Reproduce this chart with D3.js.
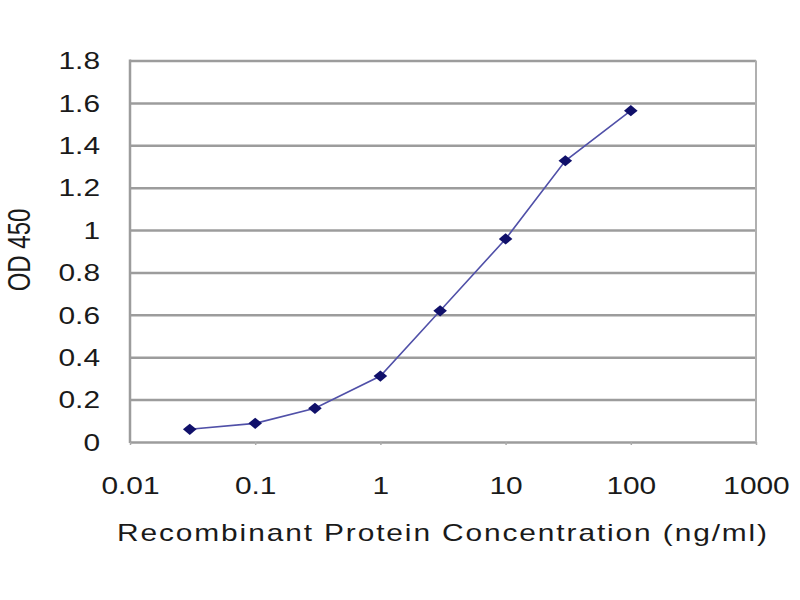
<!DOCTYPE html>
<html><head><meta charset="utf-8">
<script src="https://cdn.jsdelivr.net/npm/d3@7"></script>
<style>body{margin:0;background:#fff}svg{display:block}text{font-family:"Liberation Sans",Arial,sans-serif;fill:#1a1a1a}</style>
</head><body>
<svg id="c" width="800" height="600"></svg>
<script>
const concentrations = [0.03, 0.1, 0.3, 1, 3, 10, 30, 100];
const odValues = [0.06, 0.088, 0.159, 0.311, 0.619, 0.958, 1.327, 1.563];
const xTicks = [0.01, 0.1, 1, 10, 100, 1000];
const xTickLabels = ["0.01", "0.1", "1", "10", "100", "1000"];
const yTicks = [0, 0.2, 0.4, 0.6, 0.8, 1, 1.2, 1.4, 1.6, 1.8];
const yTickLabels = ["0", "0.2", "0.4", "0.6", "0.8", "1", "1.2", "1.4", "1.6", "1.8"];

const svg = d3.select("#c");
const L = 130, R = 756, T = 60.5, B = 442;
const SX = 1.3;
const x = d3.scaleLog().domain([0.01, 1000]).range([L, R]);
const y = d3.scaleLinear().domain([0, 1.8]).range([B, T]);

// gridlines + y labels
const yAxis = d3.axisLeft(y).tickValues(yTicks).tickSize(-(R - L)).tickFormat((d, i) => yTickLabels[i]);
const gy = svg.append("g").attr("transform", `translate(${L},0)`).call(yAxis);
gy.select(".domain").remove();
gy.selectAll(".tick line").attr("stroke", "#9c9c9c").attr("stroke-width", 2.5);
gy.selectAll(".tick text").attr("font-size", 23).attr("fill", "#1a1a1a")
  .attr("x", -30 / SX).attr("dy", "0.36em").attr("transform", `scale(${SX},1)`);

// borders
svg.append("line").attr("x1", L).attr("x2", L).attr("y1", T - 1).attr("y2", B + 1).attr("stroke", "#9c9c9c").attr("stroke-width", 2.5);
svg.append("line").attr("x1", R).attr("x2", R).attr("y1", T).attr("y2", B).attr("stroke", "#b0b0b0").attr("stroke-width", 2);

const xAxis = d3.axisBottom(x).tickValues(xTicks).tickFormat((d, i) => xTickLabels[i]).tickSize(3).tickPadding(33);
const gx = svg.append("g").attr("transform", `translate(0,${B})`).call(xAxis);
gx.select(".domain").remove();
gx.selectAll(".tick line").attr("stroke", "#aaa").attr("stroke-width", 1.5);
gx.selectAll(".tick text").attr("font-size", 23).attr("fill", "#1a1a1a").attr("transform", `scale(${SX},1)`);

// line
const line = d3.line().x((d, i) => x(concentrations[i])).y(d => y(d));
svg.append("path").datum(odValues).attr("d", line).attr("fill", "none").attr("stroke", "#5050a8").attr("stroke-width", 1.6);

// markers
const sym = d3.symbol().type(d3.symbolSquare).size(70);
svg.selectAll("path.pt").data(odValues).enter().append("path").attr("class", "pt")
  .attr("d", sym).attr("transform", (d, i) => `translate(${x(concentrations[i])},${y(d)}) scale(1.15,0.95) rotate(45)`)
  .attr("fill", "#10106a");

// titles
svg.append("text").attr("transform", `translate(443,541) scale(${SX},1)`).attr("text-anchor", "middle")
  .attr("font-size", 23).attr("letter-spacing", 1.45).text("Recombinant Protein Concentration (ng/ml)");
svg.append("text").attr("transform", `translate(30,250) scale(${SX},1) rotate(-90)`).attr("text-anchor", "middle")
  .attr("font-size", 24).text("OD 450");
</script>
</body></html>
